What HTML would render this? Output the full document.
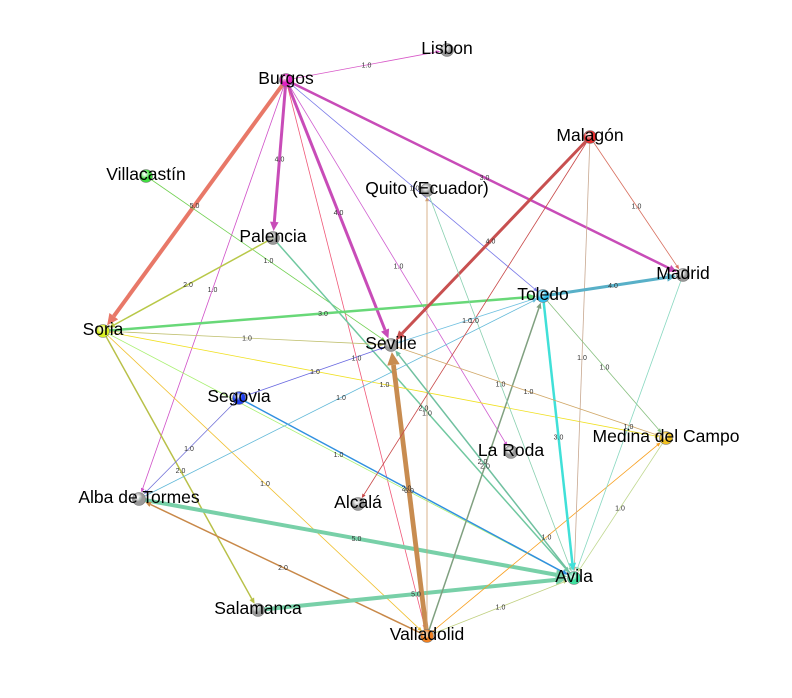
<!DOCTYPE html>
<html><head><meta charset="utf-8"><style>
html,body{margin:0;padding:0;background:#fff;}
svg{display:block;font-family:"Liberation Sans",sans-serif;}
</style></head><body>
<svg id="g" width="792" height="698" viewBox="0 0 792 698"></svg>
<script>
const nodeNames=["Lisbon","Burgos","Malagón","Villacastín","Quito (Ecuador)","Palencia","Madrid","Toledo","Soria","Seville","Segovia","Medina del Campo","La Roda","Alba de Tormes","Alcalá","Avila","Salamanca","Valladolid"];
const nodeX=[447,286,590,146,427,273,683,543,103,391,239,666,511,139,358,574,258,427];
const nodeY=[50,80,137,176,190,238,275,296,331,345,398,438,452,499,504,578,610,636];
const nodeColors=["#999","#e020c0","#e83030","#40e040","#999","#999","#999","#30c0f0","#d8f020","#999","#2040f0","#f0c020","#999","#999","#999","#40e0a0","#999","#f08020"];
const edgeSource=["Burgos","Burgos","Burgos","Burgos","Burgos","Burgos","Burgos","Burgos","Burgos","Villacastín","Palencia","Palencia","Soria","Soria","Soria","Soria","Soria","Soria","Segovia","Segovia","Segovia","Alba de Tormes","Alba de Tormes","Valladolid","Salamanca","Valladolid","Valladolid","Valladolid","Valladolid","Valladolid","Malagón","Malagón","Malagón","Malagón","Quito (Ecuador)","Toledo","Toledo","Toledo","Toledo","Madrid","Seville","Medina del Campo","Avila"];
const edgeTarget=["Lisbon","Soria","Palencia","Seville","Madrid","Toledo","La Roda","Valladolid","Alba de Tormes","Seville","Soria","Avila","Toledo","Seville","Medina del Campo","Avila","Salamanca","Valladolid","Seville","Alba de Tormes","Avila","Toledo","Avila","Alba de Tormes","Avila","Seville","Toledo","Medina del Campo","Avila","Quito (Ecuador)","Seville","Alcalá","Madrid","Avila","Avila","Madrid","Seville","Avila","Medina del Campo","Avila","Medina del Campo","Avila","Seville"];
const edgeWeights=[1,5,4,4,3,1,1,1,1,1,2,2,3,1,1,1,2,1,1,1,2,1,5,2,5,6,2,1,1,1,4,1,1,1,1,4,1,3,1,1,1,1,2];
const edgeColors=["#d858c8","#e87868","#c84cb8","#c84cb8","#c84cb8","#7878e8","#d060d0","#f05878","#d050c8","#70d050","#b8c848","#70c8a0","#68d878","#c0c070","#f0e020","#a8f070","#b8c048","#f0c030","#6868e0","#7070d8","#3090e0","#60b8d8","#78d0a8","#c88848","#78d0a8","#c88c50","#80a080","#f8a020","#c0d080","#d0a070","#c85050","#c84848","#d87060","#c8a890","#88d0b0","#58b0c8","#70c0e0","#40e0d8","#88c080","#88d8c0","#d0a868","#c0d890","#70c0a0"];

const svg=document.getElementById('g');
const NS="http://www.w3.org/2000/svg";
function idx(n){return nodeNames.indexOf(n);}
function wpx(w){return [0,0.8,1.5,2.5,3,4,4.8][w]||w;}
const edgeLayer=document.createElementNS(NS,'g');


svg.appendChild(edgeLayer);
const labelLayer=document.createElementNS(NS,'g');


for(let i=0;i<edgeSource.length;i++){
  const a=idx(edgeSource[i]),b=idx(edgeTarget[i]);
  const x1=nodeX[a],y1=nodeY[a],x2=nodeX[b],y2=nodeY[b];
  const w=wpx(edgeWeights[i]);
  const dx=x2-x1,dy=y2-y1,L=Math.hypot(dx,dy),ux=dx/L,uy=dy/L;
  const tipX=x2-ux*7,tipY=y2-uy*7;
  const ah=2.5+w*2.2,aw=1+w*1.1;
  const baseX=tipX-ux*ah,baseY=tipY-uy*ah;
  const ln=document.createElementNS(NS,'line');
  
  
  ln.setAttribute('x1',x1);ln.setAttribute('y1',y1);
  ln.setAttribute('x2',baseX);ln.setAttribute('y2',baseY);
  ln.setAttribute('stroke',edgeColors[i]);ln.setAttribute('stroke-width',w);
  edgeLayer.appendChild(ln);
  const ar=document.createElementNS(NS,'polygon');
  
  
  ar.setAttribute('points',`${tipX},${tipY} ${baseX-uy*aw},${baseY+ux*aw} ${baseX+uy*aw},${baseY-ux*aw}`);
  ar.setAttribute('fill',edgeColors[i]);
  edgeLayer.appendChild(ar);
  const t=document.createElementNS(NS,'text');
  
  
  t.setAttribute('x',(x1+x2)/2);t.setAttribute('y',(y1+y2)/2+2.5);
  t.setAttribute('text-anchor','middle');t.setAttribute('font-size','7');t.setAttribute('fill','#333');
  t.textContent=edgeWeights[i].toFixed(1);
  labelLayer.appendChild(t);
}
svg.appendChild(labelLayer);
const defs=document.createElementNS(NS,'defs');svg.appendChild(defs);
const nodeLayer=document.createElementNS(NS,'g');


svg.appendChild(nodeLayer);
for(let i=0;i<nodeNames.length;i++){
  const gr=document.createElementNS(NS,'radialGradient');
  gr.setAttribute('id','gr'+i);gr.setAttribute('cx','0.4');gr.setAttribute('cy','0.35');gr.setAttribute('r','0.7');
  gr.innerHTML=`<stop offset="0" stop-color="#fff" stop-opacity="0.5"/><stop offset="0.5" stop-color="${nodeColors[i]}"/><stop offset="1" stop-color="${nodeColors[i]}"/>`;
  defs.appendChild(gr);
  const c=document.createElementNS(NS,'circle');
  
  
  c.setAttribute('cx',nodeX[i]);c.setAttribute('cy',nodeY[i]);c.setAttribute('r',6.5);
  c.setAttribute('fill','url(#gr'+i+')');c.setAttribute('stroke','#777');c.setAttribute('stroke-width','0.6');
  nodeLayer.appendChild(c);
  const t=document.createElementNS(NS,'text');
  
  
  t.setAttribute('x',nodeX[i]);t.setAttribute('y',nodeY[i]+4);
  t.setAttribute('text-anchor','middle');t.setAttribute('font-size','17.5');t.setAttribute('fill','#000');
  t.textContent=nodeNames[i];
  nodeLayer.appendChild(t);
}
</script>
</body></html>
